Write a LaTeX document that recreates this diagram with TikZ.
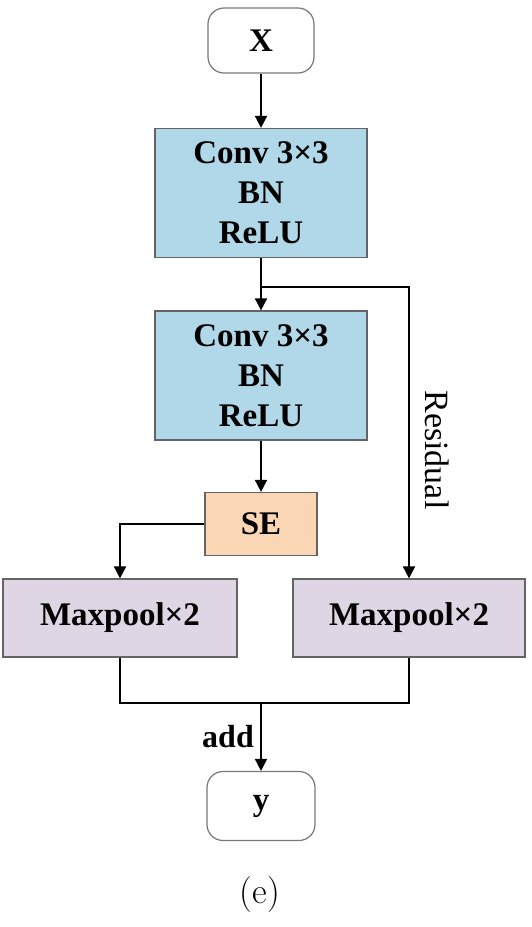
\documentclass[tikz,border=0pt]{standalone}
\usepackage{fontspec}
\newfontfamily\tms{Liberation Serif}
\usetikzlibrary{arrows.meta}
\definecolor{convfill}{RGB}{177,216,232}
\definecolor{sefill}{RGB}{251,214,181}
\definecolor{mpfill}{RGB}{222,214,228}
\definecolor{boxline}{RGB}{100,100,100}
\definecolor{roundline}{RGB}{120,120,120}
\tikzset{
  base/.style={draw=boxline, line width=1.2pt, inner sep=0pt, align=center,
    font=\tms\bfseries\fontsize{33}{40}\selectfont},
  convbox/.style={base, fill=convfill, minimum width=212pt, minimum height=129pt},
  sebox/.style={base, fill=sefill, minimum width=112pt, minimum height=63pt},
  mpbox/.style={base, fill=mpfill, minimum height=78pt},
  iobox/.style={base, draw=roundline, rounded corners=16pt, fill=white},
  arr/.style={line width=1.7pt, -{Triangle[width=12pt,length=12pt]}},
  ln/.style={line width=1.7pt},
}
\begin{document}
\begin{tikzpicture}[x=1pt,y=-1pt]
\useasboundingbox (0,0) rectangle (531,927);
\node[iobox, minimum width=106pt, minimum height=65pt] (x) at (261,40.5) {X};
\node[convbox] (c1) at (261,193) {Conv 3×3\\BN\\ReLU};
\node[convbox] (c2) at (261,375.5) {Conv 3×3\\BN\\ReLU};
\node[sebox] (se) at (261,524) {SE};
\node[mpbox, minimum width=234pt] (mp1) at (120,618) {Maxpool×2};
\node[mpbox, minimum width=232pt] (mp2) at (409,618) {Maxpool×2};
\node[iobox, minimum width=108pt, minimum height=69pt] (y) at (261,806) {y};
\coordinate (br) at (261,287);
\coordinate (j) at (261,703);
\draw[arr] (x.south) -- (c1.north);
\draw[arr] (c1.south) -- (c2.north);
\draw[arr] (br) -| (mp2.north);
\node[rotate=-90, font=\tms\fontsize{34}{40}\selectfont] (res) at (437,450) {Residual};
\draw[arr] (c2.south) -- (se.north);
\draw[arr] (se.west) -| (mp1.north);
\draw[ln] (mp1.south) -- (mp1.south |- j) -- (mp2.south |- j) -- (mp2.south);
\draw[arr] (j) -- (y.north) node[midway, left=3pt, font=\tms\bfseries\fontsize{32}{38}\selectfont] {add};
\node[font=\fontsize{36}{42}\selectfont] (cap) at (260,895) {(e)};
\end{tikzpicture}
\end{document}
